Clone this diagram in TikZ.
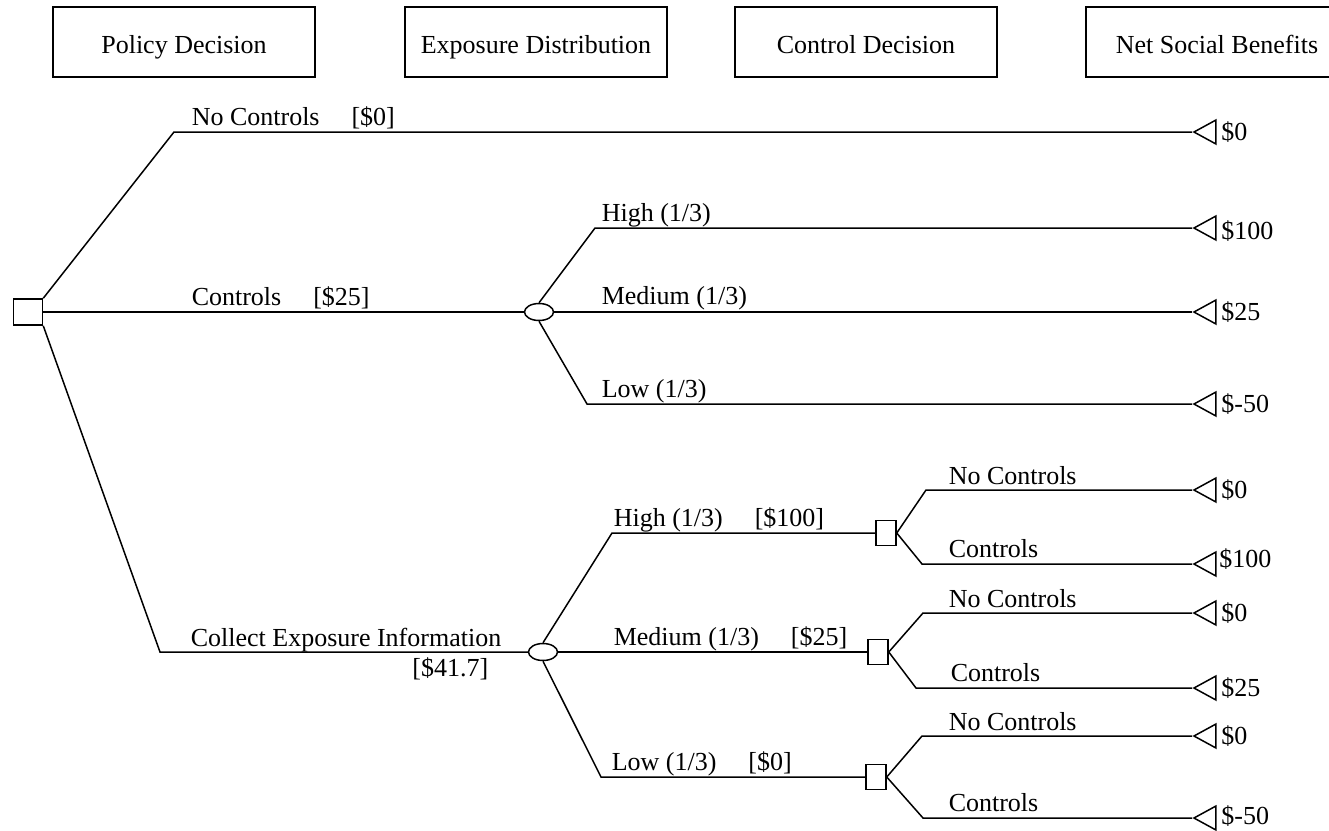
\documentclass[tikz,border=0pt]{standalone}
\usepackage{fontspec}
\setmainfont{Liberation Serif}
\usetikzlibrary{positioning,shapes.geometric}
\newcommand{\valgap}{\hspace{32pt}}

\begin{document}
\begin{tikzpicture}[
  x=1pt, y=-1pt, line width=1.5pt,
  font=\fontsize{26}{30}\selectfont,
  hdr/.style={draw, line width=1.6pt, minimum width=262pt, minimum height=70pt,
    inner sep=0pt, text height=24pt, text depth=2pt},
  dec/.style={draw, fill=white, minimum width=20pt, minimum height=25pt,
    inner sep=0pt},
  chance/.style={draw, fill=white, ellipse, minimum width=29pt,
    minimum height=17pt, inner sep=0pt},
  term/.style={draw, isosceles triangle, shape border rotate=180,
    isosceles triangle stretches, minimum width=24pt, minimum height=22pt,
    inner sep=0pt, anchor=apex},
  lbl/.style={anchor=base west, inner sep=0pt},
  val/.style={inner sep=0pt}
]
\useasboundingbox (0,0) rectangle (1329,830);

\node[hdr] (hpol) at (184,42) {Policy Decision};
\node[hdr] (hexp) at (536,42) {Exposure Distribution};
\node[hdr] (hctl) at (866,42) {Control Decision};
\node[hdr] (hnet) at (1217,42) {Net Social Benefits};

\node[dec, minimum width=29pt, minimum height=26pt] (root) at (28,312) {};
\coordinate (nc) at (174,132);
\coordinate (ce) at (160,652);
\node[chance] (ch1) at (539,312) {};
\coordinate (c1hi) at (595,228);
\coordinate (c1lo) at (587,404);
\node[chance] (ch2) at (543,652) {};
\coordinate (c2hi) at (612,533);
\coordinate (c2lo) at (601,777);
\node[dec] (sq1) at (886,533) {};
\node[dec] (sq2) at (878,652) {};
\node[dec] (sq3) at (876,777) {};
\coordinate (s1n) at (926,490);
\coordinate (s1c) at (922,564);
\coordinate (s2n) at (923,613);
\coordinate (s2c) at (916,688);
\coordinate (s3n) at (922,736);
\coordinate (s3c) at (923,818);

\node[term] (t1) at (1192,132) {};
\node[term] (t2) at (1192,228) {};
\node[term] (t3) at (1192,312) {};
\node[term] (t4) at (1192,404) {};
\node[term] (t5) at (1192,490) {};
\node[term] (t6) at (1192,564) {};
\node[term] (t7) at (1192,613) {};
\node[term] (t8) at (1192,688) {};
\node[term] (t9) at (1192,736) {};
\node[term] (t10) at (1192,818) {};

\node[val, right=4pt of t1] (v1) {\$0};
\node[val, right=4pt of t2, yshift=-3pt] (v2) {\$100};
\node[val, right=4pt of t3] (v3) {\$25};
\node[val, right=4pt of t4] (v4) {\$-50};
\node[val, right=4pt of t5] (v5) {\$0};
\node[val, right=2pt of t6, yshift=5pt] (v6) {\$100};
\node[val, right=4pt of t7] (v7) {\$0};
\node[val, right=4pt of t8] (v8) {\$25};
\node[val, right=4pt of t9] (v9) {\$0};
\node[val, right=4pt of t10, yshift=2pt] (v10) {\$-50};

\draw (root.north east) -- (nc) -- (t1.apex);
\draw (root.east) -- (ch1.west);
\draw (root.south east) -- (ce) -- (ch2.west);
\draw (ch1.north) -- (c1hi) -- (t2.apex);
\draw (ch1.east) -- (t3.apex);
\draw (ch1.south) -- (c1lo) -- (t4.apex);
\draw (ch2.north) -- (c2hi) -- (sq1.west);
\draw (ch2.east) -- (sq2.west);
\draw (ch2.south) -- (c2lo) -- (sq3.west);
\draw (sq1.east) -- (s1n) -- (t5.apex);
\draw (sq1.east) -- (s1c) -- (t6.apex);
\draw (sq2.east) -- (s2n) -- (t7.apex);
\draw (sq2.east) -- (s2c) -- (t8.apex);
\draw (sq3.east) -- (s3n) -- (t9.apex);
\draw (sq3.east) -- (s3c) -- (t10.apex);

\node[lbl] (lnc) at (191,125) {No Controls\valgap[\$0]};
\node[lbl] (lc) at (191,305) {Controls\valgap[\$25]};
\node[lbl] (lce) at (190,646) {Collect Exposure Information};
\node[anchor=base east, inner sep=0pt] (lcev) at (489,676) {[\$41.7]};
\node[lbl] (lh1) at (601,221) {High (1/3)};
\node[lbl] (lm1) at (601,304) {Medium (1/3)};
\node[lbl] (ll1) at (601,397) {Low (1/3)};
\node[lbl] (lh2) at (613,526) {High (1/3)\valgap[\$100]};
\node[lbl] (lm2) at (613,645) {Medium (1/3)\valgap[\$25]};
\node[lbl] (ll2) at (611,770) {Low (1/3)\valgap[\$0]};
\node[lbl] (ls1n) at (948,484) {No Controls};
\node[lbl] (ls1c) at (948,557) {Controls};
\node[lbl] (ls2n) at (948,607) {No Controls};
\node[lbl] (ls2c) at (950,681) {Controls};
\node[lbl] (ls3n) at (948,730) {No Controls};
\node[lbl] (ls3c) at (948,811) {Controls};
\end{tikzpicture}
\end{document}
